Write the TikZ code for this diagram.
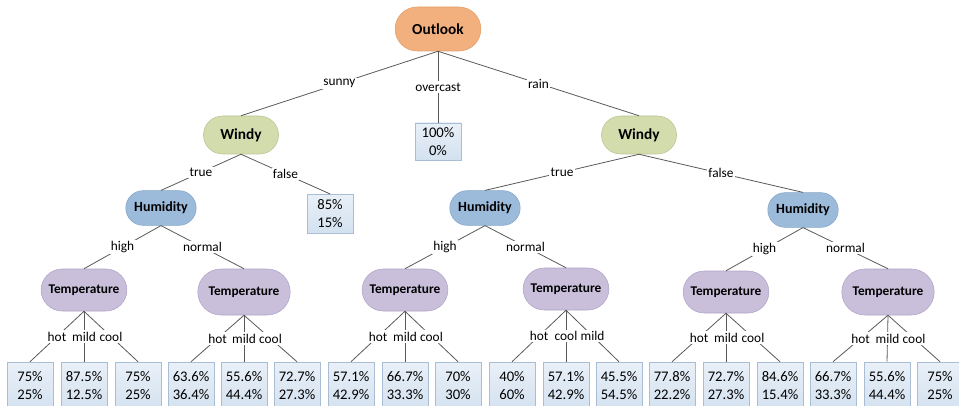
\documentclass[tikz,border=0pt]{standalone}
\usepackage{fontspec}
\setmainfont{Carlito}
\usetikzlibrary{shapes.misc, positioning}
\definecolor{outlookfill}{HTML}{F3B07F}
\definecolor{outlookline}{HTML}{E29D68}
\definecolor{windyfill}{HTML}{D3DCAD}
\definecolor{windyline}{HTML}{BAC596}
\definecolor{humfill}{HTML}{9CBADA}
\definecolor{humline}{HTML}{86A6C9}
\definecolor{tempfill}{HTML}{C9BFDB}
\definecolor{templine}{HTML}{AFA4C6}
\definecolor{leaftop}{HTML}{E9F0F8}
\definecolor{leafbot}{HTML}{D3E1EF}
\definecolor{leafline}{HTML}{A9BDD5}
\definecolor{branchgray}{HTML}{595959}

\begin{document}
\begin{tikzpicture}[x=0.75pt,y=-0.75pt,
    outlookbox/.style={rounded rectangle,draw=outlookline,fill=outlookfill,minimum width=71pt,minimum height=33pt,font=\fontsize{11.5}{13}\selectfont\bfseries},
    windybox/.style={rounded rectangle,draw=windyline,fill=windyfill,minimum width=63pt,minimum height=28.5pt,font=\fontsize{11.5}{13}\selectfont\bfseries},
    humbox/.style={rounded rectangle,draw=humline,fill=humfill,minimum width=59.5pt,minimum height=26pt,font=\fontsize{10.5}{12}\selectfont\bfseries},
    tempbox/.style={rounded rectangle,draw=templine,fill=tempfill,minimum width=71pt,minimum height=31.5pt,font=\fontsize{10}{11}\selectfont\bfseries},
    bigtemp/.style={tempbox,minimum width=76pt,minimum height=34.5pt},
    leaf/.style={draw=leafline,top color=leaftop,bottom color=leafbot,minimum width=34.5pt,minimum height=36pt,inner sep=0pt,align=center,font=\fontsize{11}{13.5}\selectfont},
    branch/.style={draw=branchgray,line width=0.6pt},
    lbl/.style={midway,fill=white,inner sep=1pt,font=\fontsize{10}{12}\selectfont}
  ]
    \useasboundingbox (0,0) rectangle (959,406);

    % upper levels
    \node[outlookbox] (outlook) at (438,29) {Outlook};
    \node[windybox] (windyL) at (241,135) {Windy};
    \node[windybox] (windyR) at (639,135) {Windy};
    \node[leaf,minimum height=28pt] (overcast) at (438,141.5) {100\%\\0\%};
    \node[leaf,minimum height=29pt] (falseL) at (330,213.5) {85\%\\15\%};
    \node[humbox] (humL) at (161,208) {Humidity};
    \node[humbox] (humM) at (485,208) {Humidity};
    \node[humbox] (humR) at (803,210) {Humidity};

    % temperature nodes
    \node[tempbox] (tempA) at (84,290) {Temperature};
    \node[bigtemp] (tempB) at (244,292) {Temperature};
    \node[tempbox] (tempC) at (405,290) {Temperature};
    \node[tempbox] (tempD) at (566,289) {Temperature};
    \node[tempbox] (tempE) at (726,292) {Temperature};
    \node[bigtemp] (tempF) at (888,292) {Temperature};

    % leaves
    \node[leaf] (leafA1) at (30,386) {75\%\\25\%};
    \node[leaf] (leafA2) at (84,386) {87.5\%\\12.5\%};
    \node[leaf] (leafA3) at (138,386) {75\%\\25\%};
    \node[leaf] (leafB1) at (191,386) {63.6\%\\36.4\%};
    \node[leaf] (leafB2) at (244,386) {55.6\%\\44.4\%};
    \node[leaf] (leafB3) at (297,386) {72.7\%\\27.3\%};
    \node[leaf] (leafC1) at (351,386) {57.1\%\\42.9\%};
    \node[leaf] (leafC2) at (405,386) {66.7\%\\33.3\%};
    \node[leaf] (leafC3) at (458,386) {70\%\\30\%};
    \node[leaf] (leafD1) at (512,386) {40\%\\60\%};
    \node[leaf] (leafD2) at (566,386) {57.1\%\\42.9\%};
    \node[leaf] (leafD3) at (619,386) {45.5\%\\54.5\%};
    \node[leaf] (leafE1) at (672,386) {77.8\%\\22.2\%};
    \node[leaf] (leafE2) at (726,386) {72.7\%\\27.3\%};
    \node[leaf] (leafE3) at (780,386) {84.6\%\\15.4\%};
    \node[leaf] (leafF1) at (833,386) {66.7\%\\33.3\%};
    \node[leaf] (leafF2) at (887,386) {55.6\%\\44.4\%};
    \node[leaf] (leafF3) at (940,386) {75\%\\25\%};

    % branches
    \draw[branch] (outlook.south) -- (windyL.north) node[lbl] {sunny};
    \draw[branch] (outlook.south) -- (overcast.north) node[lbl] {overcast};
    \draw[branch] (outlook.south) -- (windyR.north) node[lbl] {rain};
    \draw[branch] (windyL.south) -- (humL.north) node[lbl] {true};
    \draw[branch] (windyL.south) -- (falseL.north) node[lbl] {false};
    \draw[branch] (windyR.south) -- (humM.north) node[lbl] {true};
    \draw[branch] (windyR.south) -- (humR.north) node[lbl] {false};
    \draw[branch] (humL.south) -- (tempA.north) node[lbl] {high};
    \draw[branch] (humL.south) -- (tempB.north) node[lbl] {normal};
    \draw[branch] (humM.south) -- (tempC.north) node[lbl] {high};
    \draw[branch] (humM.south) -- (tempD.north) node[lbl] {normal};
    \draw[branch] (humR.south) -- (tempE.north) node[lbl] {high};
    \draw[branch] (humR.south) -- (tempF.north) node[lbl] {normal};

    \draw[branch] (tempA.south) -- (leafA1.north) node[lbl] {hot};
    \draw[branch] (tempA.south) -- (leafA2.north) node[lbl] {mild};
    \draw[branch] (tempA.south) -- (leafA3.north) node[lbl] {cool};
    \draw[branch] (tempB.south) -- (leafB1.north) node[lbl] {hot};
    \draw[branch] (tempB.south) -- (leafB2.north) node[lbl] {mild};
    \draw[branch] (tempB.south) -- (leafB3.north) node[lbl] {cool};
    \draw[branch] (tempC.south) -- (leafC1.north) node[lbl] {hot};
    \draw[branch] (tempC.south) -- (leafC2.north) node[lbl] {mild};
    \draw[branch] (tempC.south) -- (leafC3.north) node[lbl] {cool};
    \draw[branch] (tempD.south) -- (leafD1.north) node[lbl] {hot};
    \draw[branch] (tempD.south) -- (leafD2.north) node[lbl] {cool};
    \draw[branch] (tempD.south) -- (leafD3.north) node[lbl] {mild};
    \draw[branch] (tempE.south) -- (leafE1.north) node[lbl] {hot};
    \draw[branch] (tempE.south) -- (leafE2.north) node[lbl] {mild};
    \draw[branch] (tempE.south) -- (leafE3.north) node[lbl] {cool};
    \draw[branch] (tempF.south) -- (leafF1.north) node[lbl] {hot};
    \draw[branch] (tempF.south) -- (leafF2.north) node[lbl] {mild};
    \draw[branch] (tempF.south) -- (leafF3.north) node[lbl] {cool};
  \end{tikzpicture}
\end{document}
